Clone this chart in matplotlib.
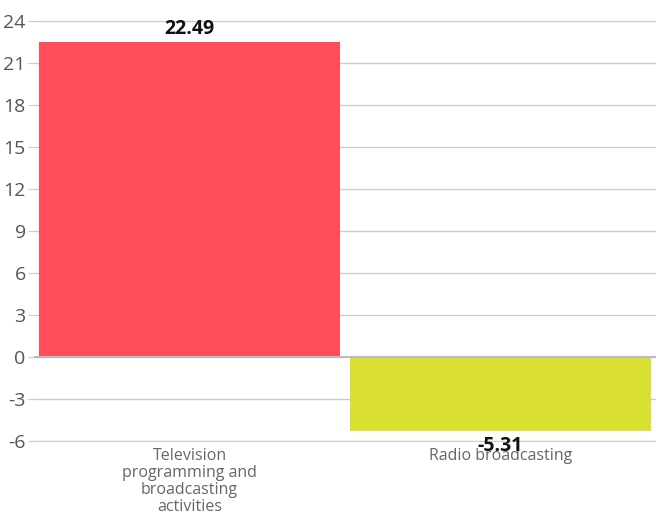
import matplotlib
matplotlib.use("Agg")
import matplotlib.pyplot as plt

categories = ["Television\nprogramming and\nbroadcasting\nactivities", "Radio broadcasting"]
values = [22.49, -5.31]
bar_colors = ["#ff4d5a", "#d9e032"]
y_ticks = [-6, -3, 0, 3, 6, 9, 12, 15, 18, 21, 24]

plt.rcParams["font.family"] = ["Open Sans", "DejaVu Sans"]

fig = plt.figure(figsize=(6.56, 5.15), dpi=100)
ax = fig.add_axes([34 / 656, 1 - 442 / 515, 1 - 34 / 656, 422 / 515])

x = range(len(categories))
bars = ax.bar(x, values, width=0.965, color=bar_colors, zorder=2)

for b, v in zip(bars, values):
    cx = b.get_x() + b.get_width() / 2
    if v >= 0:
        ax.annotate(f"{v:.2f}", (cx, v), xytext=(0, 2), textcoords="offset points",
                    ha="center", va="bottom", fontsize=14, fontweight="bold", color="#111111")
    else:
        ax.annotate(f"{v:.2f}", (cx, v), xytext=(0, -3), textcoords="offset points",
                    ha="center", va="top", fontsize=14, fontweight="bold", color="#111111",
                    zorder=5)

ax.set_xlim(-0.5, len(categories) - 0.5)
ax.set_ylim(-6.07, 24.07)
ax.set_yticks(y_ticks)
ax.set_yticklabels([str(t) for t in y_ticks], fontsize=14, color="#555555")
ax.set_xticks(list(x))
ax.set_xticklabels(categories, fontsize=11.5, color="#666666", linespacing=1.1)

ax.grid(axis="y", color="#cccccc", linewidth=1, zorder=0)
ax.axhline(0, color="#bbbbbb", linewidth=1.5, zorder=3)
ax.tick_params(axis="y", length=4, color="#cccccc", pad=2)
ax.tick_params(axis="x", length=0, pad=4)
for s in ax.spines.values():
    s.set_visible(False)

fig.savefig("out.png", dpi=100)
